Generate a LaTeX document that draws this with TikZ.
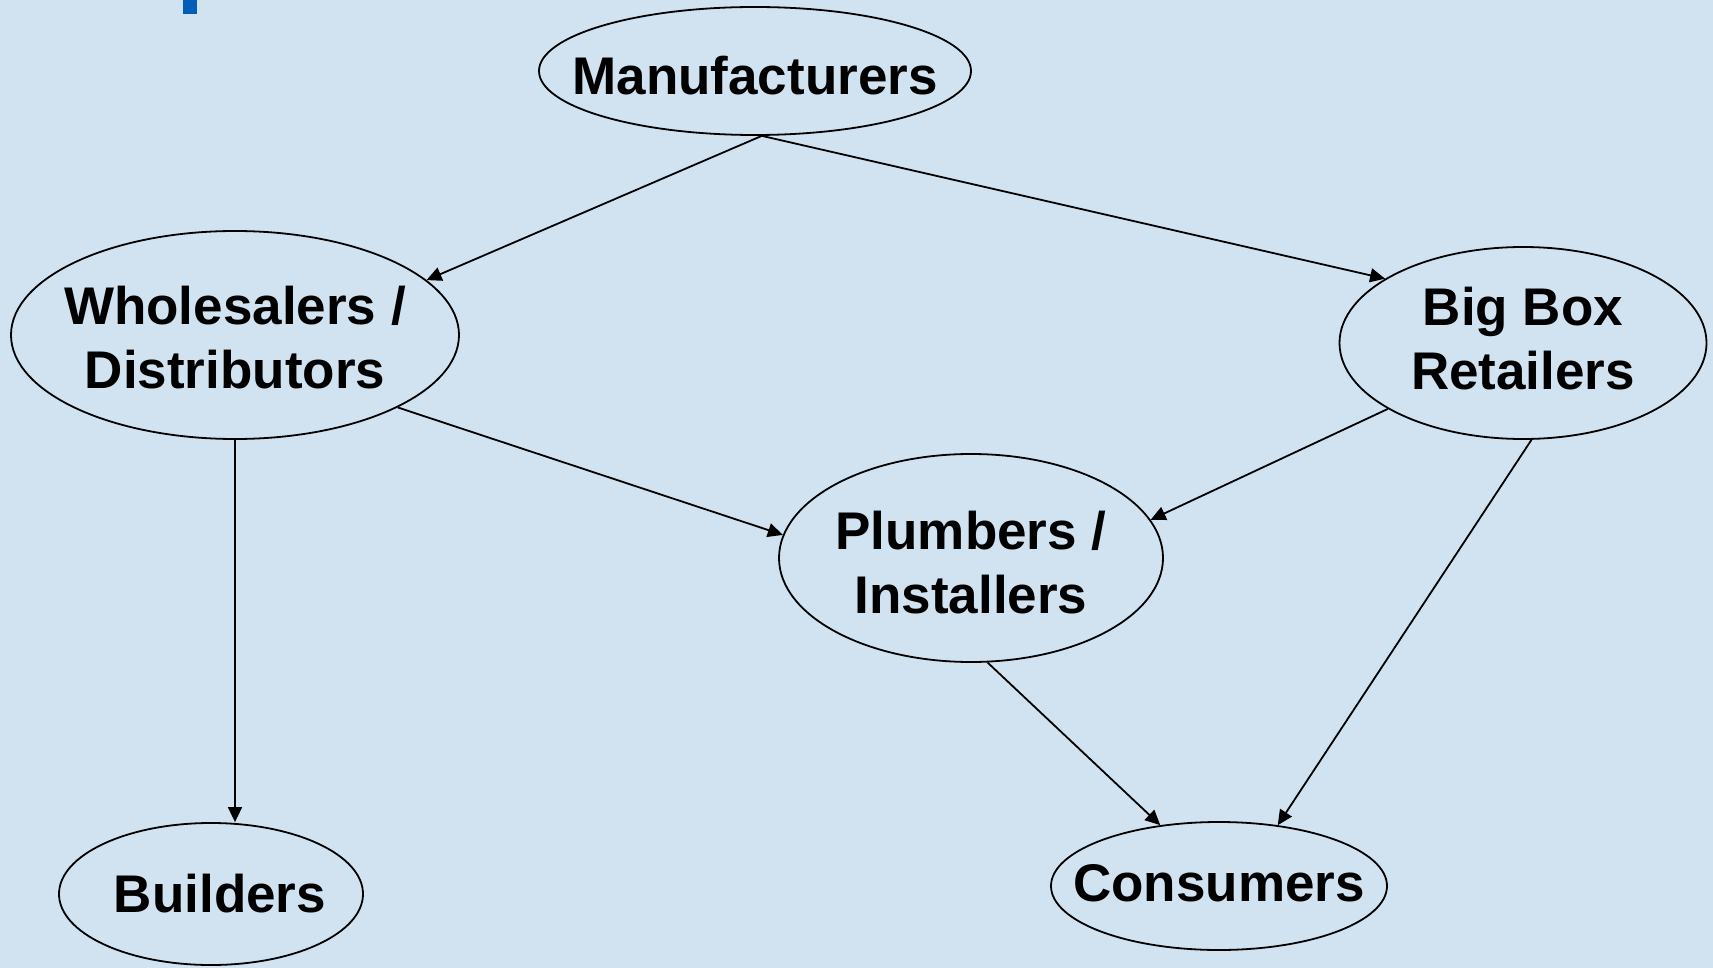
\documentclass[tikz,border=0pt]{standalone}
\usepackage{fontspec}
\setmainfont{Liberation Sans}
\usetikzlibrary{shapes.geometric,arrows.meta}
\definecolor{bgblue}{RGB}{209,226,241}
\definecolor{markblue}{RGB}{0,94,184}
\tikzset{
  ell/.style={ellipse, draw=black, line width=1.8pt, inner sep=0pt},
  lab/.style={font=\fontsize{53}{64}\selectfont\bfseries, align=center, inner sep=0pt, text=black},
  arr/.style={draw=black, line width=1.8pt, -{Triangle[length=15pt,width=14pt]}}
}
\begin{document}
\begin{tikzpicture}[x=1pt,y=-1pt]
\fill[bgblue] (0,0) rectangle (1713,968);
\useasboundingbox (0,0) rectangle (1713,968);
\fill[markblue] (183,0) rectangle (197,14.5);

\node[ell, minimum width=432pt, minimum height=128pt, label={[lab,yshift=-5pt]center:Manufacturers}] (man) at (755,71) {};
\node[ell, minimum width=448pt, minimum height=208pt, label={[lab,yshift=-3pt]center:Wholesalers /\\Distributors}] (whole) at (235,335) {};
\node[ell, minimum width=367pt, minimum height=192pt, label={[lab,yshift=4pt]center:Big Box\\Retailers}] (bb) at (1523,343) {};
\node[ell, minimum width=384pt, minimum height=208pt, label={[lab,yshift=-5pt]center:Plumbers /\\Installers}] (plum) at (971,558) {};
\node[ell, minimum width=304pt, minimum height=142pt, label={[lab,xshift=9pt]center:Builders}] (build) at (211,894) {};
\node[ell, minimum width=336pt, minimum height=128pt, label={[lab,yshift=3pt]center:Consumers}] (cons) at (1219,886) {};

\draw[arr] (man.-84) -- (whole.16);
\draw[arr] (man.-84) -- (bb.155.5);
\draw[arr] (whole.-24.8) -- (plum.173);
\draw[arr] (whole.south) -- (whole.south |- build.north);
\draw[arr] (bb.-154.8) -- (plum.12.7);
\draw[arr] (bb.-85.5) -- (cons.46);
\draw[arr] (plum.-81) -- (cons.134);
\end{tikzpicture}
\end{document}
